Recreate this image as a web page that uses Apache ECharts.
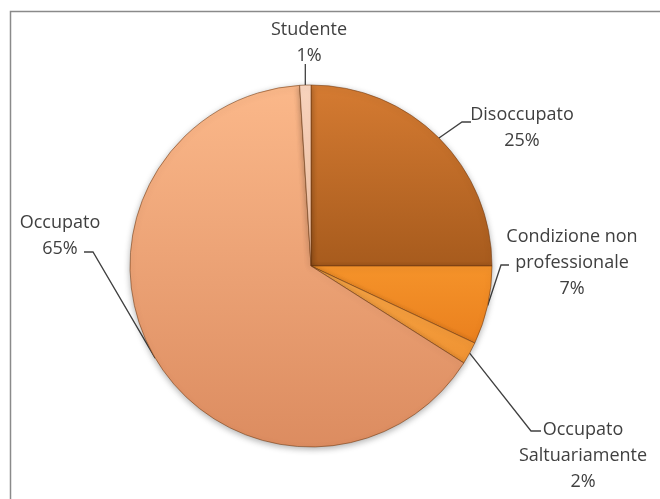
<!DOCTYPE html>
<html>
<head>
<meta charset="utf-8">
<title>Condizione professionale</title>
<script src="https://cdn.jsdelivr.net/npm/echarts@6/dist/echarts.min.js"></script>
<style>
  html, body { margin: 0; padding: 0; background: #fff; }
  #chart { width: 660px; height: 499px; }
</style>
</head>
<body>
<div id="chart"></div>
<script>
// Dati del grafico (in senso orario dalle ore 12)
const categorie = ['Disoccupato', 'Condizione non\nprofessionale', 'Occupato\nSaltuariamente', 'Occupato', 'Studente'];
const valori = [25, 7, 2, 65, 1];

// Colori delle fette (alto -> basso)
const coloriAlto = ['#d57b32', '#f5932a', '#f7a646', '#fbb88a', '#fad6bf'];
const coloriBasso = ['#a75b1d', '#ea801e', '#ef9232', '#dc8c60', '#f3c2a4'];

// Posizione delle etichette: centro del testo, gomito e fine della linea guida
const posEtichette = [
    { x: 522, y: 128, gomito: [462, 122], fine: [471, 122] },
    { x: 572, y: 263, gomito: [501, 265], fine: [509, 265] },
    { x: 583, y: 456, gomito: [531, 431], fine: [541, 431] },
    { x: 60, y: 236, gomito: [93, 252], fine: [84, 252] },
    { x: 309, y: 43, gomito: null, fine: null }
];

const chart = echarts.init(document.getElementById('chart'));

const datiPie = categorie.map((nome, i) => ({
    name: nome,
    value: valori[i],
    itemStyle: {
        color: new echarts.graphic.LinearGradient(0, 0, 0, 1, [
            { offset: 0, color: coloriAlto[i] },
            { offset: 1, color: coloriBasso[i] }
        ])
    }
}));

chart.setOption({
    animation: false,
    backgroundColor: '#ffffff',
    graphic: [{
        type: 'rect',
        left: 8,
        top: 9,
        shape: { x: 0, y: 0, width: 700, height: 600 },
        style: { fill: 'none', stroke: '#8a8a8a', lineWidth: 1.5 },
        z: -1
    }],
    series: [{
        type: 'pie',
        center: [311, 266],
        radius: 181,
        startAngle: 90,
        clockwise: true,
        avoidLabelOverlap: false,
        itemStyle: {
            borderColor: 'rgba(110, 55, 15, 0.55)',
            borderWidth: 1,
            shadowBlur: 6,
            shadowOffsetY: 2,
            shadowColor: 'rgba(0, 0, 0, 0.3)'
        },
        label: {
            show: true,
            position: 'outside',
            formatter: p => p.name + '\n' + Math.round(p.percent) + '%',
            fontFamily: 'Open Sans',
            fontSize: 18,
            lineHeight: 26,
            color: '#404040',
            align: 'center'
        },
        labelLine: {
            show: true,
            length: 10,
            length2: 10,
            lineStyle: { color: '#404040', width: 1.3 }
        },
        labelLayout: function (params) {
            const pos = posEtichette[params.dataIndex];
            const p0 = params.labelLinePoints ? params.labelLinePoints[0] : [0, 0];
            let punti;
            if (pos.gomito) {
                punti = [p0, pos.gomito, pos.fine];
            } else {
                punti = [p0, [p0[0], 64]];
            }
            return {
                x: pos.x,
                y: pos.y,
                align: 'center',
                verticalAlign: 'middle',
                labelLinePoints: punti
            };
        },
        data: datiPie
    }]
});
</script>
</body>
</html>
